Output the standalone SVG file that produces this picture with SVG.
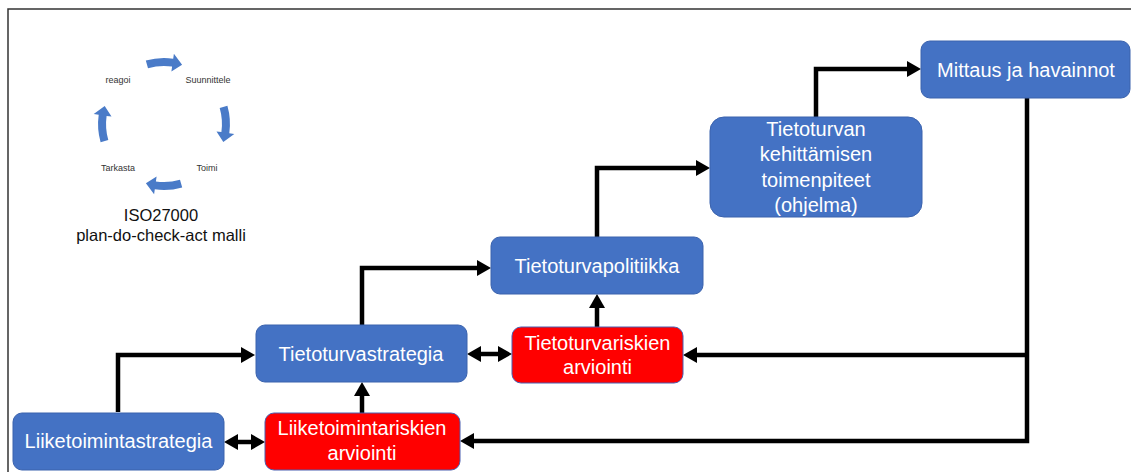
<svg xmlns="http://www.w3.org/2000/svg" width="1131" height="472" viewBox="0 0 1131 472">
<style>
.box{fill:#4472C4;stroke:#3A62AD;stroke-width:1}
.risk{fill:#FF0000;stroke:#4A5FB0;stroke-width:1}
.lbl{font-family:"Liberation Sans",Arial,sans-serif;font-size:20px;fill:#FFFFFF;text-anchor:middle}
.con{fill:none;stroke:#000000;stroke-width:4.5}
.small{font-family:"Liberation Sans",Arial,sans-serif;font-size:9px;fill:#333333;text-anchor:middle}
.title{font-family:"Liberation Sans",Arial,sans-serif;font-size:16.5px;fill:#111111;text-anchor:middle}
.cyc{fill:#4A7BC8}
</style>
<defs>
<marker id="ah" markerUnits="userSpaceOnUse" markerWidth="14" markerHeight="16" refX="4" refY="8" orient="auto-start-reverse" viewBox="0 0 14 16">
<path d="M0,0 L14,8 L0,16 Z" fill="#000000"/>
</marker>
<path id="cycarrow" d="M145.8 60.6 A66 66 0 0 1 173.2 58.7 L173.9 53.7 L182.1 64.7 L171.4 71.5 L172.1 66.6 A58 58 0 0 0 148.0 68.3 Z"/>
</defs>
<rect x="0" y="0" width="1131" height="472" fill="#FFFFFF"/>
<path d="M8 472 V9 H1131" fill="none" stroke="#333333" stroke-width="1.5"/>

<g id="pdca">
<use href="#cycarrow" class="cyc"/>
<use href="#cycarrow" class="cyc" transform="rotate(90 164 124)"/>
<use href="#cycarrow" class="cyc" transform="rotate(180 164 124)"/>
<use href="#cycarrow" class="cyc" transform="rotate(270 164 124)"/>
<text class="small" x="118" y="83">reagoi</text>
<text class="small" x="208" y="83">Suunnittele</text>
<text class="small" x="118" y="171">Tarkasta</text>
<text class="small" x="207" y="171">Toimi</text>
<text class="title" x="161" y="221">ISO27000</text>
<text class="title" x="161" y="241">plan-do-check-act malli</text>
</g>

<g id="connectors">
<path class="con" d="M118 412 V355 H245" marker-end="url(#ah)"/>
<path class="con" d="M234 442 H255" marker-start="url(#ah)" marker-end="url(#ah)"/>
<path class="con" d="M362 413 V392" marker-end="url(#ah)"/>
<path class="con" d="M362 325 V268 H481" marker-end="url(#ah)"/>
<path class="con" d="M477 354 H502" marker-start="url(#ah)" marker-end="url(#ah)"/>
<path class="con" d="M597 327 V304" marker-end="url(#ah)"/>
<path class="con" d="M597 237 V168 H700" marker-end="url(#ah)"/>
<path class="con" d="M816 117 V69 H911" marker-end="url(#ah)"/>
<path class="con" d="M1027 98 V441 H470" marker-end="url(#ah)"/>
<path class="con" d="M1027 355 H693" marker-end="url(#ah)"/>
</g>

<g id="liiketoimintastrategia">
<rect class="box" x="13" y="413" width="211" height="57" rx="9"/>
<text class="lbl" x="118.5" y="448">Liiketoimintastrategia</text>
</g>
<g id="liiketoimintariskien">
<rect class="risk" x="265" y="413" width="195" height="57" rx="9"/>
<text class="lbl" x="362" y="435">Liiketoimintariskien</text>
<text class="lbl" x="362" y="460">arviointi</text>
</g>
<g id="tietoturvastrategia">
<rect class="box" x="256" y="325" width="211" height="57" rx="9"/>
<text class="lbl" x="361" y="361">Tietoturvastrategia</text>
</g>
<g id="tietoturvariskien">
<rect class="risk" x="512" y="327" width="171" height="56" rx="9"/>
<text class="lbl" x="597.5" y="350">Tietoturvariskien</text>
<text class="lbl" x="597.5" y="374">arviointi</text>
</g>
<g id="tietoturvapolitiikka">
<rect class="box" x="491" y="237" width="212" height="57" rx="9"/>
<text class="lbl" x="597" y="273">Tietoturvapolitiikka</text>
</g>
<g id="kehittaminen">
<rect class="box" x="710" y="117" width="212" height="100" rx="14"/>
<text class="lbl" x="816" y="136">Tietoturvan</text>
<text class="lbl" x="816" y="161">kehittämisen</text>
<text class="lbl" x="816" y="187">toimenpiteet</text>
<text class="lbl" x="816" y="212">(ohjelma)</text>
</g>
<g id="mittaus">
<rect class="box" x="921" y="41" width="209" height="57" rx="9"/>
<text class="lbl" x="1026" y="77">Mittaus ja havainnot</text>
</g>
</svg>
